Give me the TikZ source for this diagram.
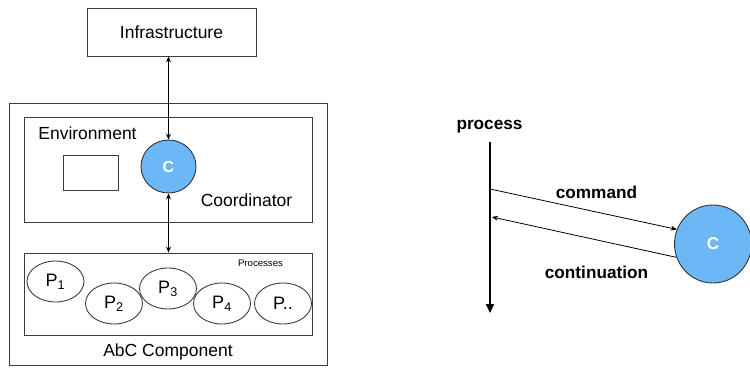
\documentclass[tikz,border=0pt]{standalone}
\usepackage{fontspec}
\setmainfont{Liberation Sans}
\usetikzlibrary{shapes.geometric,arrows.meta}
\definecolor{cblue}{RGB}{108,184,246}
\definecolor{lgray}{RGB}{60,60,60}
\tikzset{
  box/.style={draw=lgray,line width=0.8pt,rectangle,inner sep=0pt},
  proc/.style={draw=lgray,line width=0.9pt,ellipse,inner sep=0pt,minimum width=57pt,minimum height=41pt,font=\fontsize{18}{20}\selectfont},
  coord/.style={draw=black!80,line width=0.9pt,ellipse,fill=cblue,inner sep=0pt,text=white,font=\fontsize{16}{18}\selectfont\bfseries},
  lbl/.style={inner sep=0pt,font=\fontsize{17.5}{20}\selectfont},
  blbl/.style={inner sep=0pt,font=\fontsize{17.2}{20}\selectfont\bfseries},
  tip/.style={-{Stealth[length=6pt,width=5pt]}},
  dtip/.style={{Stealth[length=6pt,width=5pt]}-{Stealth[length=6pt,width=5pt]}},
}
\begin{document}
\begin{tikzpicture}[x=1pt,y=-1pt]
\useasboundingbox (0,0) rectangle (750,367);
% left part
\node[box,minimum width=169pt,minimum height=48pt,lbl] (infra) at (171.5,32) {Infrastructure};
\node[box,minimum width=318pt,minimum height=262pt] (outer) at (168,234.5) {};
\node[box,minimum width=288pt,minimum height=105pt] (env) at (168,169.5) {};
\node[box,minimum width=55pt,minimum height=35pt] (rect) at (90.5,172.5) {};
\node[coord,minimum width=55pt,minimum height=53pt] (C) at (168.5,166.5) {C};
\node[lbl] (envl) at (87.5,133) {Environment};
\node[lbl] (coordl) at (246.5,200) {Coordinator};
\node[box,minimum width=288pt,minimum height=82pt] (pbox) at (168,294) {};
\node[inner sep=0pt,font=\fontsize{9.6}{11}\selectfont] (procl) at (260.5,263.5) {Processes};
\node[proc] (p1) at (55.5,281.5) {P\textsubscript{1}};
\node[proc] (p2) at (114,303.5) {P\textsubscript{2}};
\node[proc] (p3) at (168,288.5) {P\textsubscript{3}};
\node[proc] (p4) at (222,303.5) {P\textsubscript{4}};
\node[proc] (p5) at (283,303.5) {P..};
\node[lbl] (abc) at (168,352) {AbC Component};
\draw[dtip,line width=0.8pt] (C.north |- infra.south) -- (C.north);
\draw[dtip,line width=0.8pt] (C.south) -- (C.south |- pbox.north);
% right part
\node[blbl] (procr) at (489.5,127) {process};
\coordinate (ptop) at (490,142);
\coordinate (pbot) at (490,313);
\draw[line width=1.6pt,-{Triangle[length=9pt,width=8pt]}] (ptop) -- (pbot);
\node[coord,minimum width=77pt,minimum height=78pt,font=\fontsize{17}{19}\selectfont\bfseries] (C2) at (713,244) {C};
\coordinate (cmdstart) at (490,189);
\coordinate (contend) at (492,217);
\draw[tip,line width=0.8pt] (cmdstart) -- (C2.158);
\draw[tip,line width=0.8pt] (C2.200) -- (contend);
\node[blbl] (cmdl) at (596.5,192) {command};
\node[blbl] (contl) at (596.5,272) {continuation};
\end{tikzpicture}
\end{document}
